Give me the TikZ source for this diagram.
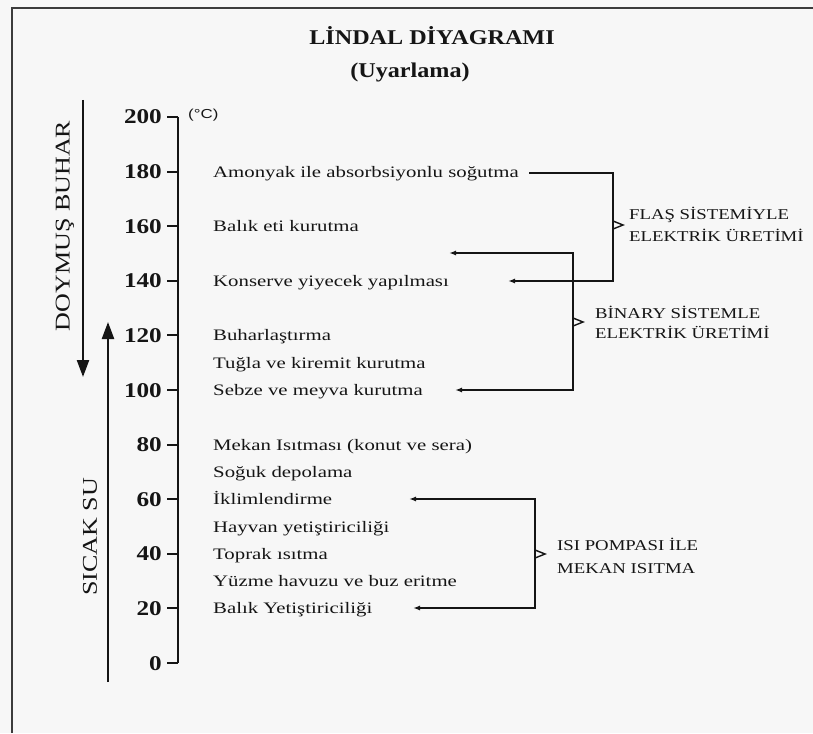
\documentclass[tikz,border=0pt]{standalone}
\usepackage{fontspec}
\setmainfont{Liberation Serif}
\setsansfont{Liberation Sans}
\newfontfamily\itmfont[FakeStretch=1.3]{Liberation Serif}
\newfontfamily\grpfont[FakeStretch=1.25]{Liberation Serif}
\newfontfamily\numfont[FakeStretch=1.2]{Liberation Serif}
\newfontfamily\ttlfont[FakeStretch=1.15]{Liberation Serif}
\newfontfamily\sidefont[FakeStretch=1.24]{Liberation Serif}
\newfontfamily\unitfont[FakeStretch=1.3]{Liberation Sans}
\usepackage{tikz}
\usetikzlibrary{arrows.meta,positioning}
\definecolor{ink}{HTML}{151515}
\definecolor{paper}{HTML}{F7F7F7}
\definecolor{framec}{HTML}{3C3C3C}
\tikzset{
  lnk/.style={-{Latex[length=7pt,width=5pt]},line width=1.4pt,ink},
  lnkb/.style={{Latex[length=7pt,width=5pt]}-{Latex[length=7pt,width=5pt]},line width=1.4pt,ink},
  bigar/.style={-{Triangle[length=17pt,width=12pt]},line width=2.3pt,ink},
  itm/.style={anchor=base west,inner sep=0pt,ink,font=\itmfont\fontsize{16}{16}\selectfont},
  tnum/.style={anchor=base east,inner sep=0pt,ink,font=\numfont\bfseries\fontsize{21}{21}\selectfont},
  grp/.style={anchor=west,align=left,inner sep=0pt,ink,font=\grpfont\fontsize{15}{22}\selectfont},
  side/.style={rotate=90,inner sep=0pt,ink,font=\sidefont\fontsize{21}{21}\selectfont},
  nub/.style={line width=1.4pt,ink}
}
\newcommand{\nubat}[1]{\draw[nub] ([yshift=4pt]#1) -- ++(10,4) -- ++(-10,4);}

\begin{document}
\begin{tikzpicture}[x=1pt,y=-1pt]
\fill[paper] (0,0) rectangle (813,733);
\useasboundingbox (0,0) rectangle (813,733);
\draw[line width=1.4pt,framec] (12,733) -- (12,8) -- (813,8);
% title
\node[anchor=base,inner sep=0pt,ink,font=\ttlfont\bfseries\fontsize{21}{21}\selectfont] (baslik) at (432,45) {LİNDAL DİYAGRAMI};
\node[anchor=base,inner sep=0pt,ink,font=\ttlfont\bfseries\fontsize{21}{21}\selectfont] (altbaslik) at (410,78) {(Uyarlama)};
% temperature axis
\draw[line width=2.5pt,ink] (178,117) -- (178,663);
\foreach \v in {200,180,...,0} {
  \node[tnum] (t\v) at (162,{117+(200-\v)*2.73+7}) {\v};
  \draw[line width=2pt,ink] (167,{117+(200-\v)*2.73}) -- (178,{117+(200-\v)*2.73});
}
\node[anchor=west,inner sep=0pt,ink,font=\unitfont\fontsize{13}{13}\selectfont] (birim) at (188,115) {(°C)};
% steam and hot water
\coordinate (dbust) at (83,100);
\coordinate (dbalt) at (83,377);
\coordinate (ssalt) at (108,682);
\coordinate (ssust) at (108,322);
\draw[bigar] (dbust) -- (dbalt);
\draw[bigar] (ssalt) -- (ssust);
\node[side] (doymus) at (65,226) {DOYMUŞ BUHAR};
\node[side] (sicak) at (90,537) {SICAK SU};
% uses
\node[itm] (amonyak) at (213,177) {Amonyak ile absorbsiyonlu soğutma};
\node[itm] (balik) at (213,231) {Balık eti kurutma};
\node[itm] (konserve) at (213,286) {Konserve yiyecek yapılması};
\node[itm] (buhar) at (213,340) {Buharlaştırma};
\node[itm] (tugla) at (213,368) {Tuğla ve kiremit kurutma};
\node[itm] (sebze) at (213,395) {Sebze ve meyva kurutma};
\node[itm] (mekan) at (213,450) {Mekan Isıtması (konut ve sera)};
\node[itm] (soguk) at (213,477) {Soğuk depolama};
\node[itm] (iklim) at (213,504) {İklimlendirme};
\node[itm] (hayvan) at (213,532) {Hayvan yetiştiriciliği};
\node[itm] (toprak) at (213,559) {Toprak ısıtma};
\node[itm] (yuzme) at (213,586) {Yüzme havuzu ve buz eritme};
\node[itm] (balikyet) at (213,613) {Balık Yetiştiriciliği};
% flash
\coordinate (fk) at (613,225);
\coordinate (kontip) at (508,281);
\draw[lnk] ([xshift=10pt]amonyak.east) -| (fk) |- (kontip);
\nubat{fk}
\node[grp] (flas) at (629,224) {FLAŞ SİSTEMİYLE\\ELEKTRİK ÜRETİMİ};
% binary
\coordinate (bk) at (573,322);
\coordinate (bitop) at (449,253);
\coordinate (bibot) at (455,390);
\draw[lnkb] (bitop) -| (bk) |- (bibot);
\nubat{bk}
\node[grp,font=\grpfont\fontsize{15}{20}\selectfont] (binary) at (595,322) {BİNARY SİSTEMLE\\ELEKTRİK ÜRETİMİ};
% heat pump
\coordinate (pk) at (535,554);
\coordinate (iktip) at (409,499);
\coordinate (bytip) at (413,608);
\draw[lnkb] (iktip) -| (pk) |- (bytip);
\nubat{pk}
\node[grp,font=\grpfont\fontsize{15}{23}\selectfont] (pompa) at (557,556) {ISI POMPASI İLE\\MEKAN ISITMA};
\end{tikzpicture}
\end{document}
